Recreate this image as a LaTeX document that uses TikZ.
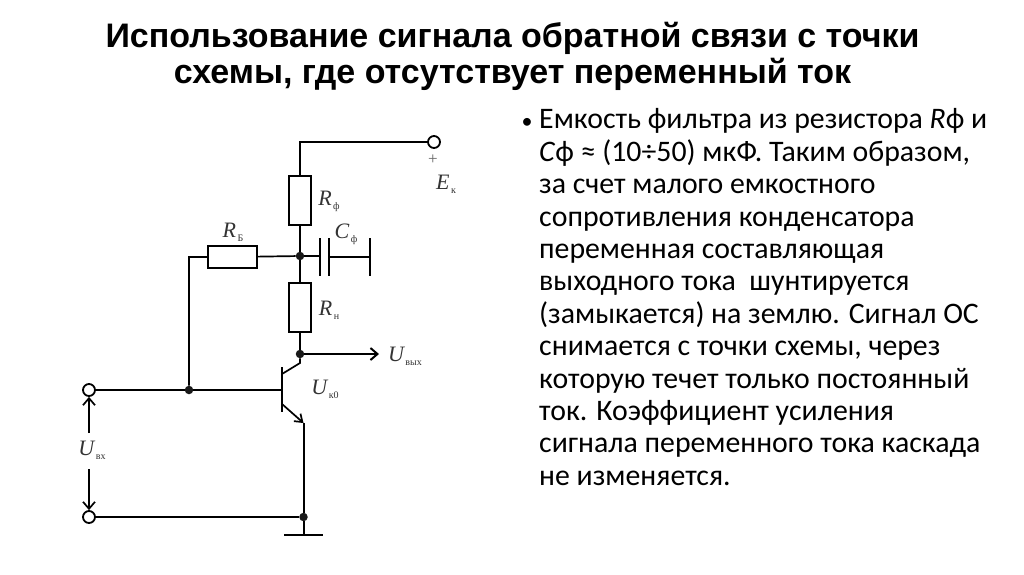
\documentclass[tikz,border=0pt]{standalone}
\usepackage{fontspec}
\setmainfont{Carlito}
\newfontfamily\titlefont{Liberation Sans}
\newfontfamily\labelfont{Liberation Serif}
\usetikzlibrary{arrows.meta}
\tikzset{
  wire/.style={line width=1.7pt},
  res/.style={draw, line width=2.4pt, minimum width=22pt, minimum height=49pt, inner sep=0pt},
  resb/.style={draw, line width=2pt, minimum width=49pt, minimum height=22pt, inner sep=0pt},
  term/.style={circle, draw, line width=1.8pt, fill=white, minimum size=12pt, inner sep=0pt},
  dot/.style={circle, fill=black!90, minimum size=8.5pt, inner sep=0pt},
  lab/.style={font=\labelfont\fontsize{22}{22}\selectfont\itshape, text=black!80, inner sep=0pt},
  sig/.style={wire, -{Straight Barb[length=7pt,width=12pt]}}
}
\newcommand{\sublab}[1]{{\kern1.5pt\labelfont\fontsize{10}{10}\selectfont\upshape\raisebox{-4pt}{#1}}}
\begin{document}
\begin{tikzpicture}[x=1pt,y=-1pt]
  \useasboundingbox (0,0) rectangle (1024,574);
  \fill[white] (0,0) rectangle (1024,574);
  \node[font=\titlefont\bfseries\fontsize{34}{36}\selectfont, align=center, inner sep=0pt] (title) at (512.5,56)
    {Использование сигнала обратной связи с точки\\схемы, где отсутствует переменный ток};

  \node[term] (ek) at (434,142) {};
  \coordinate (top) at (300,142);
  \node[res] (rf) at (300,200.5) {};
  \node[dot] (j1) at (300,256) {};
  \node[resb] (rb) at (232.5,257) {};
  \coordinate (bl) at (189,257);
  \node[res] (rn) at (300,307.5) {};
  \node[dot] (j2) at (300,354) {};
  \node[dot] (j3) at (189,390) {};
  \node[term] (inp) at (89,390) {};
  \node[term] (gnd) at (89,517) {};
  \node[dot] (j4) at (303.5,517) {};
  \coordinate (base) at (282,390);
  \coordinate (bt) at (282,367);
  \coordinate (bb) at (282,412);
  \coordinate (col) at (282,374);
  \coordinate (colk) at (300,363);
  \coordinate (emi) at (282,404);
  \coordinate (emk) at (303.5,423);
  \coordinate (gr) at (303.5,535);
  \coordinate (gl) at (284,535);
  \coordinate (grr) at (323,535);
  \coordinate (c1t) at (320,238);
  \coordinate (c1b) at (320,276);
  \coordinate (c2t) at (329,238);
  \coordinate (c2b) at (329,276);
  \coordinate (c3t) at (370,238);
  \coordinate (c3b) at (370,276);
  \coordinate (c1) at (320,256);
  \coordinate (c2) at (329,257);
  \coordinate (c3) at (370,257);
  \coordinate (uo) at (379,354);
  \coordinate (ua) at (89,433);
  \coordinate (ub) at (89,469);

  \draw[wire] (ek) -- (top) -- (rf);
  \draw[wire] (rf) -- (j1) -- (rn) -- (j2);
  \draw[wire] (j1) -- (rb) -- (bl) -- (j3);
  \draw[wire] (j1) -- (c1);
  \draw[wire] (c2) -- (c3);
  \draw[wire] (c1t) -- (c1b);
  \draw[wire] (c2t) -- (c2b);
  \draw[wire] (c3t) -- (c3b);
  \draw[sig, line width=2pt] (j2) -- (uo);
  \draw[wire] (inp) -- (j3) -- (base);
  \draw[line width=2.6pt] (bt) -- (bb);
  \draw[wire] (col) -- (colk) -- (j2);
  \draw[wire, -{Straight Barb[length=7pt,width=10pt]}] (emi) -- (emk);
  \draw[line width=2pt] (emk) -- (j4) -- (gr);
  \draw[line width=2pt] (gnd) -- (j4);
  \draw[wire] (gl) -- (grr);
  \draw[sig] (ua) -- (inp);
  \draw[sig] (ub) -- (gnd);

  \node[font=\labelfont\fontsize{17}{17}\selectfont, text=black!60, inner sep=0pt] (plus) at (433,160) {+};
  \node[lab] (lek) at (446,184) {E\sublab{к}};
  \node[lab] (lrf) at (329,201) {R\sublab{ф}};
  \node[lab] (lrb) at (233,232) {R\sublab{Б}};
  \node[lab] (lcf) at (346,234) {C\sublab{ф}};
  \node[lab] (lrn) at (329,310) {R\sublab{н}};
  \node[lab] (luo) at (405,356) {U\sublab{вых}};
  \node[lab] (luk) at (325,389) {U\sublab{к0}};
  \node[lab] (lui) at (92,450) {U\sublab{вх}};

  \node[font=\fontsize{22}{22}\selectfont, inner sep=0pt] (bul) at (527,123) {•};
  \node[font=\fontsize{29.8}{32.4}\selectfont, align=left, anchor=north west, inner sep=0pt] (body) at (539,108.5)
    {Емкость фильтра из резистора \textit{R}ф и\\
     \textit{С}ф ≈ (10÷50) мкФ. Таким образом,\\
     за счет малого емкостного\\
     сопротивления конденсатора\\
     переменная составляющая\\
     выходного тока\ \ шунтируется\\
     (замыкается) на землю. Сигнал ОС\\
     снимается с точки схемы, через\\
     которую течет только постоянный\\
     ток. Коэффициент усиления\\
     сигнала переменного тока каскада\\
     не изменяется.};
\end{tikzpicture}
\end{document}
